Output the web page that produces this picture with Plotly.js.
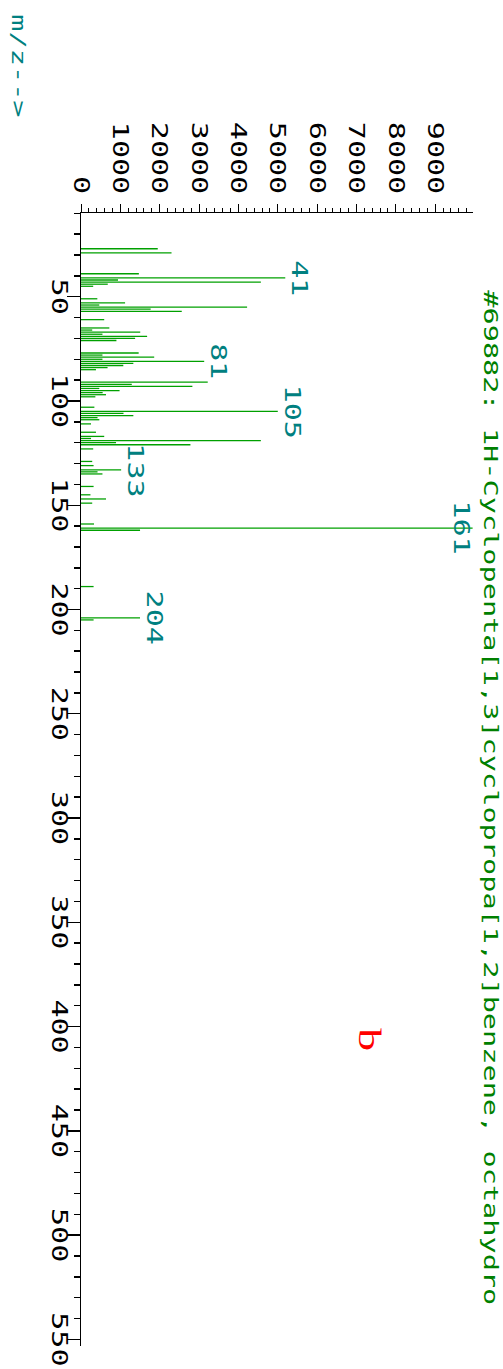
<!DOCTYPE html>
<html><head><meta charset="utf-8">
<script src="https://cdn.plot.ly/plotly-3.0.1.min.js"></script>
<style>
html,body{margin:0;padding:0;background:#fff;overflow:hidden;width:503px;height:1369px;}
#wrap{position:absolute;left:0;top:0;width:957px;height:503px;transform-origin:0 0;transform:translate(503px,0) rotate(90deg) scale(1.43,1);}
</style></head>
<body><div id="wrap"><div id="chart" style="width:957px;height:503px"></div></div>
<script>
const mz = [27,29,39,41,42,43,44,45,51,53,54,55,56,57,61,65,66,67,68,69,70,71,77,78,79,80,81,82,83,84,85,91,92,93,94,95,96,97,98,103,105,106,107,108,109,111,115,117,118,119,120,121,123,129,131,133,134,135,141,145,147,149,159,161,162,189,204,205];
const abundance = [1950,2300,1470,5190,940,4570,680,310,415,1120,465,4220,1770,2560,590,720,285,1505,545,1680,1375,900,1465,545,1860,545,3130,1330,1075,675,380,3220,1290,2830,465,980,550,635,365,340,5000,1080,1330,420,465,255,380,590,255,4570,890,2780,310,285,320,1020,420,545,320,240,635,285,330,9950,1500,320,1500,320];
const labelledPeaks = [41,81,105,133,161,204];
const chartTitle = "#69882: 1H-Cyclopenta[1,3]cyclopropa[1,2]benzene, octahydro";
const axisLabel = "m/z-->";
const panelLetter = "b";

const MONO = "DejaVu Sans Mono";
const yMax = 9960;

const xs = [], ys = [];
mz.forEach((m, i) => { xs.push(m, m, null); ys.push(0, abundance[i], null); });

const annotations = labelledPeaks.map(p => {
  const v = abundance[mz.indexOf(p)];
  const atTop = v > yMax * 0.95;
  return {x: p, y: atTop ? yMax : v, xref: 'x', yref: 'y', text: String(p), showarrow: false,
          yanchor: atTop ? 'top' : 'bottom', xanchor: 'center', yshift: atTop ? 2 : 0,
          font: {family: MONO, size: 21, color: '#008080'}};
});
annotations.push({x: -0.178, y: -0.158, xref: 'paper', yref: 'paper', text: axisLabel, showarrow: false,
  xanchor: 'left', yanchor: 'middle', font: {family: MONO, size: 20, color: '#008080'}});
annotations.push({x: 0.730, y: 0.737, xref: 'paper', yref: 'paper', text: panelLetter, showarrow: false,
  xanchor: 'center', yanchor: 'middle', font: {family: 'Liberation Serif', size: 32, color: '#ff0000'}});

const layout = {
  width: 957, height: 503,
  margin: {l: 149, r: 16, t: 30, b: 81, pad: 0},
  paper_bgcolor: '#fff', plot_bgcolor: '#fff',
  showlegend: false,
  title: {text: chartTitle, x: 203/957, xref: 'container', xanchor: 'left', y: 1 - 5/503, yref: 'container', yanchor: 'top',
          font: {family: MONO, size: 20, color: '#008000'}},
  xaxis: {range: [9.9, 553], tick0: 0, dtick: 50, ticks: 'outside', ticklen: 13, tickwidth: 1, tickcolor: '#000',
          minor: {dtick: 10, tick0: 0, ticks: 'outside', ticklen: 6, tickcolor: '#000', tickwidth: 1, showgrid: false},
          showline: true, linecolor: '#000', linewidth: 1, showgrid: false, zeroline: false,
          ticklabelstandoff: -10,
          tickfont: {family: MONO, size: 21, color: '#000'}},
  yaxis: {range: [0, yMax], tick0: 0, dtick: 1000, tickformat: 'd', ticks: 'outside', ticklen: 5, tickwidth: 1, tickcolor: '#000',
          minor: {dtick: 200, tick0: 0, ticks: 'outside', ticklen: 2.5, tickcolor: '#000', tickwidth: 1, showgrid: false},
          showline: true, linecolor: '#000', linewidth: 1, showgrid: false, zeroline: false,
          ticklabelstandoff: 3,
          tickfont: {family: MONO, size: 21, color: '#000'}},
  annotations: annotations
};

Plotly.newPlot('chart', [{type: 'scatter', mode: 'lines', x: xs, y: ys, connectgaps: false,
  line: {color: '#00a000', width: 0.9}, hoverinfo: 'skip'}], layout, {staticPlot: true, displayModeBar: false});
</script></body></html>
